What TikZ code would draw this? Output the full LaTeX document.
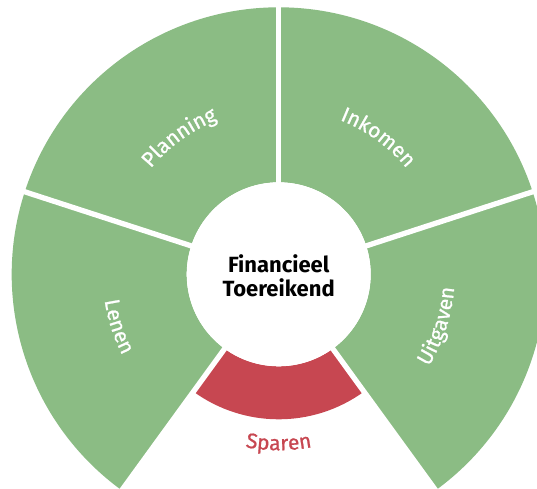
\documentclass[tikz,border=0pt]{standalone}
\usepackage{fontspec}
\usepackage{tikz}
\usetikzlibrary{decorations.text}
\newfontfamily\wheelfont{Fira Sans}
\newfontfamily\wheellabelfont[FakeBold=0.9]{Fira Sans}
\definecolor{wheelgreen}{RGB}{139,188,132}
\definecolor{wheelred}{RGB}{199,71,81}
\tikzstyle{hub} = [circle, fill=white, minimum size=184pt, inner sep=0pt]
\tikzstyle{hubtext} = [align=center, text=black, font=\wheelfont\bfseries\fontsize{22}{26}\selectfont]
\tikzstyle{gap} = [white, line width=5.3pt]
\newcommand{\labelsize}{\wheellabelfont\fontsize{21}{24}\selectfont}
\newcommand{\drawSector}[5]
{
  \fill [#5] (#1:#3) arc [start angle=#1, end angle=#2, radius=#3]
    -- (#2:#4) arc [start angle=#2, end angle=#1, radius=#4] -- cycle;
}
\newcommand{\drawGap}[2]
{
  \draw [gap] (c) -- (#1:#2);
}
\newcommand{\labelOnArc}[5]
{
  \path [decorate, decoration={text along path, text align=center,
         text color=#4, text={|\labelsize|#5}}]
    (#1:#3) arc [start angle=#1, end angle=#2, radius=#3];
}

\begin{document}
\begin{tikzpicture}[x=1pt, y=1pt]
\useasboundingbox (-278.7,-213.7) rectangle (258.3,274.3);
\clip (-278.7,-213.7) rectangle (258.3,274.3);
\coordinate (c) at (0,0);

% the four green parts and the red one
\drawSector{18}{90}{92}{267}{wheelgreen}
\drawSector{90}{162}{92}{267}{wheelgreen}
\drawSector{162}{234}{92}{267}{wheelgreen}
\drawSector{306}{378}{92}{267}{wheelgreen}
\drawSector{234}{306}{92}{145}{wheelred}

\drawGap{18}{280}
\drawGap{90}{280}
\drawGap{162}{280}
\drawGap{234}{280}
\drawGap{306}{280}

\node (hub) [hub] at (c) {};
\node (title) [hubtext] at (0,-1) {Financieel\\[-2pt]Toereikend};

% labels along the arcs
\labelOnArc{156}{96}{166}{white}{Planning}
\labelOnArc{84}{24}{166}{white}{Inkomen}
\labelOnArc{168}{228}{176}{white}{Lenen}
\labelOnArc{-48}{12}{176}{white}{Uitgaven}
\labelOnArc{240}{300}{176}{wheelred}{Sparen}

\end{tikzpicture}
\end{document}
